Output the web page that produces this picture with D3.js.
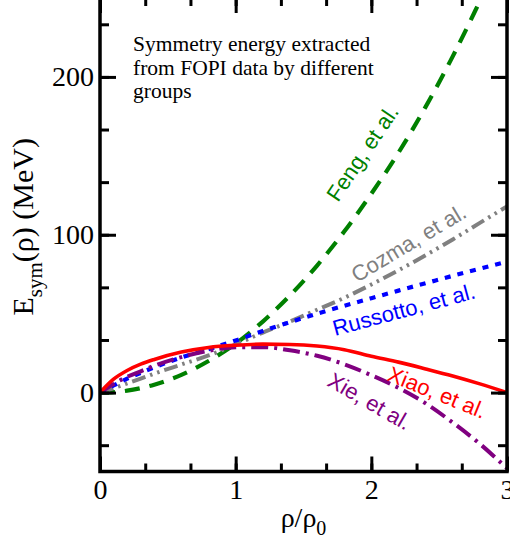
<!DOCTYPE html>
<html>
<head>
<meta charset="utf-8">
<script src="https://cdn.jsdelivr.net/npm/d3@7"></script>
<style>
  body { margin: 0; background: #fff; }
  svg { display: block; }
</style>
</head>
<body>
<svg id="chart" width="510" height="554"></svg>
<script>
// density grid (rho/rho0) shared by all curves
const rho = [0, 0.1, 0.2, 0.3, 0.4, 0.6, 0.8, 1.0, 1.2, 1.4, 1.6, 1.8, 2.0, 2.2, 2.4, 2.6, 2.8, 3.0];

// Esym (MeV)
const feng     = [0, 0.3, 1.2, 2.8, 5, 11.2, 20, 31, 45, 61.5, 80.5, 102, 126, 152, 181, 213, 248, 284];
const cozma    = [0, 2.8, 5.8, 8.8, 12, 17.8, 23.5, 30.5, 38, 45, 52.5, 60, 68.5, 77.5, 87, 97, 107.5, 118];
const russotto = [0, 4.5, 8.8, 12.5, 16, 22.2, 27.5, 33, 39, 44.6, 50, 55, 59.8, 64.6, 69.3, 74, 78.5, 83];
const xiao     = [0, 8.5, 14, 18, 21, 25.7, 28.6, 30, 30.7, 30.5, 29.5, 27.2, 23, 19.3, 15, 10.5, 5.5, 0];
const xie      = [0, 5.5, 10, 13.5, 17, 22.5, 26.5, 28.7, 28.8, 26.8, 23.3, 18, 11, 3, -6.8, -19, -32.5, -48];

const xMajor = [0, 1, 2, 3];
const yMajor = [0, 100, 200];
const noteLines = ["Symmetry energy extracted", "from FOPI data by different", "groups"];

const serif = "'Liberation Serif', 'Times New Roman', serif";
const sans = "'Liberation Sans', Arial, sans-serif";

const svg = d3.select("#chart");

// plot area in pixels
const pLeft = 100, pRight = 507, pTop = -2, pBottom = 471.5;

const x = d3.scaleLinear().domain([0, 3]).range([pLeft, pRight]);
const y = d3.scaleLinear().domain([-50, 250]).range([pBottom, pTop]);

const xMinor = d3.range(0, 10).map(i => i / 3);
const yMinor = d3.range(-1, 8).map(i => i * 100 / 3).filter(v => v >= -50 && v <= 250);

// clip
svg.append("clipPath").attr("id", "clip")
  .append("rect").attr("x", pLeft).attr("y", pTop).attr("width", pRight - pLeft).attr("height", pBottom - pTop);

// curves
const series = [
  { vals: feng, color: "#008000", dash: "15,10", w: 4.2 },
  { vals: cozma, color: "#808080", dash: "14,5,2.5,5,2.5,5", w: 4 },
  { vals: russotto, color: "#0000ff", dash: "6,7", w: 4.2 },
  { vals: xie, color: "#800080", dash: "17,6,3,6", w: 4 },
  { vals: xiao, color: "#ff0000", dash: null, w: 3.6 }
];

const line = d3.line()
  .x((d, i) => x(rho[i]))
  .y(d => y(d))
  .curve(d3.curveMonotoneX);

const g = svg.append("g").attr("clip-path", "url(#clip)");
series.forEach(s => {
  g.append("path")
    .datum(s.vals)
    .attr("fill", "none")
    .attr("stroke", s.color)
    .attr("stroke-width", s.w)
    .attr("stroke-dasharray", s.dash)
    .attr("d", line);
});

// curve labels
const labels = [
  { text: "Feng, et al.", color: "#008000", px: 338, py: 203, rot: -56 },
  { text: "Cozma, et al.", color: "#808080", px: 357, py: 283, rot: -31 },
  { text: "Russotto, et al.", color: "#0000ff", px: 335, py: 336, rot: -15 },
  { text: "Xiao, et al.", color: "#ff0000", px: 386, py: 380, rot: 22 },
  { text: "Xie, et al.", color: "#800080", px: 326, py: 385, rot: 30 }
];
labels.forEach(l => {
  svg.append("text")
    .attr("transform", `translate(${l.px},${l.py}) rotate(${l.rot})`)
    .attr("font-family", sans)
    .attr("font-size", 22)
    .attr("fill", l.color)
    .text(l.text);
});

// axes with inward ticks
function styleAxis(sel) {
  sel.select(".domain").remove();
  sel.selectAll("line").attr("stroke", "#000").attr("stroke-width", 3);
  sel.selectAll("text")
    .attr("font-family", serif)
    .attr("font-size", 28)
    .attr("fill", "#000");
}

svg.append("g").attr("transform", `translate(0,${pBottom})`)
  .call(d3.axisBottom(x).tickValues(xMinor).tickSize(-8).tickFormat(""))
  .call(styleAxis);
svg.append("g").attr("transform", `translate(0,${pBottom})`)
  .call(d3.axisBottom(x).tickValues(xMajor).tickSize(-15).tickPadding(8).tickFormat(d3.format("d")))
  .call(styleAxis);

svg.append("g").attr("transform", `translate(0,${pTop})`)
  .call(d3.axisTop(x).tickValues(xMinor).tickSize(-8).tickFormat(""))
  .call(styleAxis);
svg.append("g").attr("transform", `translate(0,${pTop})`)
  .call(d3.axisTop(x).tickValues(xMajor).tickSize(-15).tickFormat(""))
  .call(styleAxis);

svg.append("g").attr("transform", `translate(${pLeft},0)`)
  .call(d3.axisLeft(y).tickValues(yMinor).tickSize(-9).tickFormat(""))
  .call(styleAxis);
svg.append("g").attr("transform", `translate(${pLeft},0)`)
  .call(d3.axisLeft(y).tickValues(yMajor).tickSize(-16).tickPadding(6).tickFormat(d3.format("d")))
  .call(styleAxis);

svg.append("g").attr("transform", `translate(${pRight},0)`)
  .call(d3.axisRight(y).tickValues(yMinor).tickSize(-9).tickFormat(""))
  .call(styleAxis);
svg.append("g").attr("transform", `translate(${pRight},0)`)
  .call(d3.axisRight(y).tickValues(yMajor).tickSize(-16).tickFormat(""))
  .call(styleAxis);

// frame
svg.append("rect")
  .attr("x", pLeft).attr("y", pTop)
  .attr("width", pRight - pLeft).attr("height", pBottom - pTop)
  .attr("fill", "none").attr("stroke", "#000").attr("stroke-width", 3.5);

// annotation
const note = svg.append("text")
  .attr("font-family", serif)
  .attr("font-size", 21.5)
  .attr("fill", "#000");
noteLines.forEach((t, i) => {
  note.append("tspan").attr("x", 133).attr("y", 51 + i * 23.5).text(t);
});

// y label
const yl = svg.append("text")
  .attr("transform", `translate(33,${(pTop + pBottom) / 2 - 8}) rotate(-90)`)
  .attr("text-anchor", "middle")
  .attr("font-family", serif)
  .attr("font-size", 30)
  .attr("fill", "#000");
yl.append("tspan").text("E");
yl.append("tspan").attr("font-size", 21).attr("dy", 9).text("sym");
yl.append("tspan").attr("dy", -9).text("(\u03c1) (MeV)");

// x label
const xl = svg.append("text")
  .attr("x", (pLeft + pRight) / 2)
  .attr("y", 527)
  .attr("text-anchor", "middle")
  .attr("font-family", serif)
  .attr("font-size", 28)
  .attr("fill", "#000");
xl.append("tspan").text("\u03c1/\u03c1");
xl.append("tspan").attr("font-size", 20).attr("dy", 8).text("0");
</script>
</body>
</html>
